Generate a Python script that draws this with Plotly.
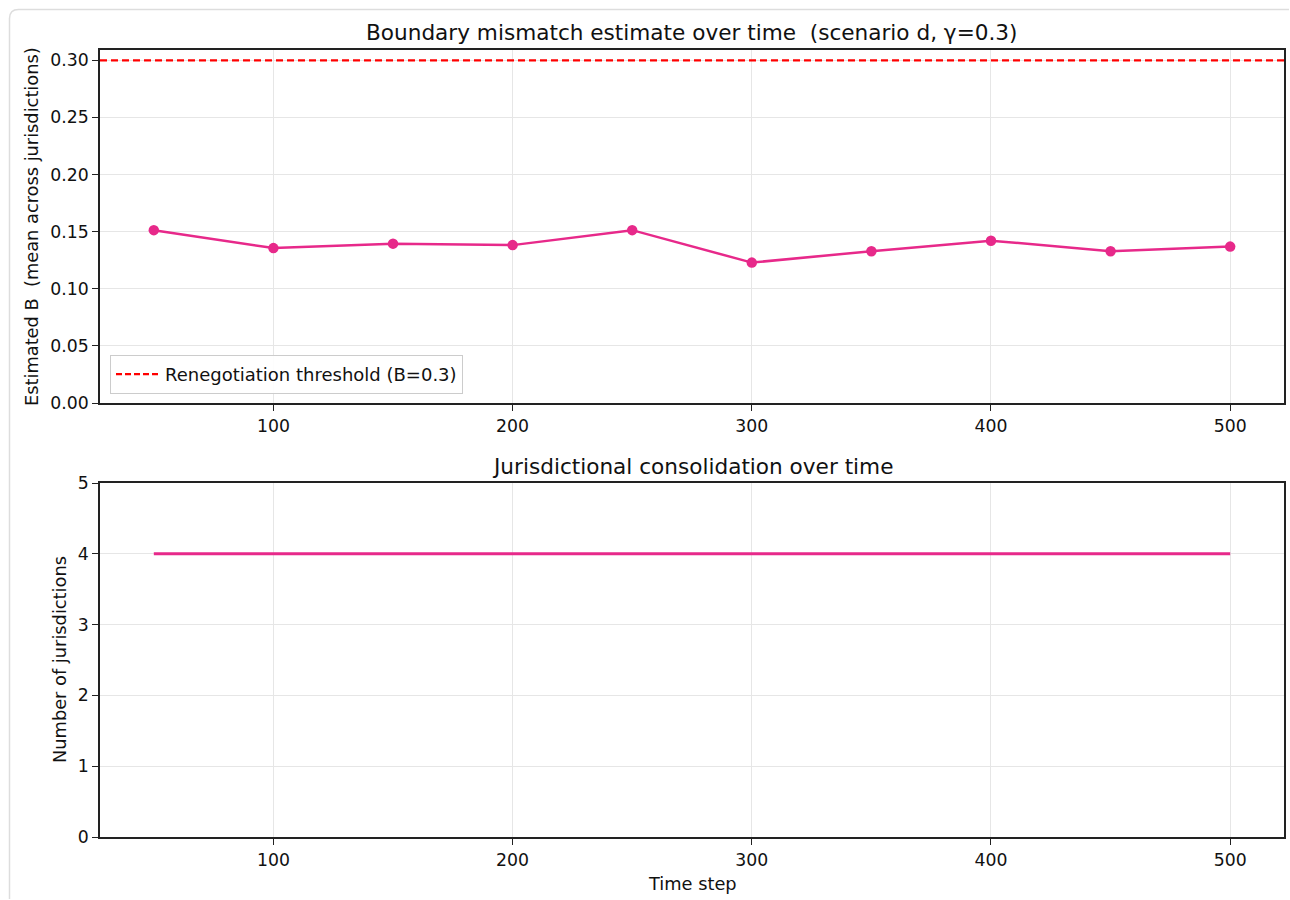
import plotly.graph_objects as go

# ---- data ----
time_steps = [50, 100, 150, 200, 250, 300, 350, 400, 450, 500]
mismatch_B = [0.1513, 0.1356, 0.1395, 0.1382, 0.1513, 0.1229, 0.1329, 0.1421, 0.1329, 0.1369]
n_jurisdictions = [4, 4, 4, 4, 4, 4, 4, 4, 4, 4]
threshold_B = 0.3
x_ticks = [100, 200, 300, 400, 500]
y1_ticks = [0.0, 0.05, 0.10, 0.15, 0.20, 0.25, 0.30]
y2_ticks = [0, 1, 2, 3, 4, 5]

title_top = "Boundary mismatch estimate over time  (scenario d, γ=0.3)"
title_bottom = "Jurisdictional consolidation over time"
ylabel_top = "Estimated B  (mean across jurisdictions)"
ylabel_bottom = "Number of jurisdictions"
xlabel = "Time step"
legend_label = "Renegotiation threshold (B=0.3)"

PINK = "#e7298a"
FONT = "DejaVu Sans, Liberation Sans, sans-serif"
W, H = 1290, 900
TICK_SIZE = 17.3
LABEL_SIZE = 17.8
LEGEND_SIZE = 18
TITLE_SIZE = 21.6

xmin, xmax = min(time_steps), max(time_steps)
pad = 0.05 * (xmax - xmin)
xrange_ = [xmin - pad, xmax + pad]
y1_top = threshold_B * 1.03

def px_x(p):
    return p / W

def px_y(p):
    return 1 - p / H

fig = go.Figure()

fig.add_trace(go.Scatter(
    x=time_steps, y=mismatch_B, mode="lines+markers",
    line=dict(color=PINK, width=2.5),
    marker=dict(color=PINK, size=10.5),
    showlegend=False, xaxis="x", yaxis="y",
))
# legend proxy for the threshold line
fig.add_trace(go.Scatter(
    x=[None], y=[None], mode="lines", name=legend_label,
    line=dict(color="red", width=2.2, dash="6px,3px"),
    showlegend=True, xaxis="x", yaxis="y",
))
fig.add_shape(type="line", xref="x domain", yref="y", x0=0, x1=1,
              y0=threshold_B, y1=threshold_B,
              line=dict(color="red", width=2.2, dash="7px,4px"))

fig.add_trace(go.Scatter(
    x=time_steps, y=n_jurisdictions, mode="lines",
    line=dict(color=PINK, width=3),
    showlegend=False, xaxis="x2", yaxis="y2",
))

axis_common = dict(
    showline=True, linecolor="#222", linewidth=1.5, mirror=True,
    ticks="outside", ticklen=6, tickwidth=1.3, tickcolor="#222",
    showgrid=True, gridcolor="#e6e6e6", gridwidth=1,
    zeroline=False, automargin=False,
    tickfont=dict(family=FONT, size=TICK_SIZE, color="#111"),
)

fig.update_layout(
    template="none",
    width=W, height=H, autosize=False,
    margin=dict(l=0, r=0, t=0, b=0, pad=0, autoexpand=False),
    paper_bgcolor="white", plot_bgcolor="white",
    font=dict(family=FONT, color="#111"),
    xaxis=dict(domain=[px_x(100), px_x(1284)], anchor="y", range=xrange_,
               tickvals=x_ticks, **axis_common),
    yaxis=dict(domain=[px_y(403), px_y(50)], anchor="x", range=[0, y1_top],
               tickvals=y1_ticks, tickformat=".2f", **axis_common),
    xaxis2=dict(domain=[px_x(100), px_x(1284)], anchor="y2", range=xrange_,
                tickvals=x_ticks, **axis_common),
    yaxis2=dict(domain=[px_y(837), px_y(483)], anchor="x2", range=[0, 5],
                tickvals=y2_ticks, **axis_common),
    legend=dict(x=px_x(110), y=px_y(394), xanchor="left", yanchor="bottom",
                bgcolor="rgba(255,255,255,0.9)", bordercolor="#cccccc", borderwidth=1,
                font=dict(family=FONT, size=LEGEND_SIZE, color="#111"),
                itemwidth=44),
    showlegend=True,
)

annots = [
    dict(text=title_top, x=(px_x(100) + px_x(1284)) / 2, y=px_y(32), size=TITLE_SIZE, angle=0),
    dict(text=title_bottom, x=(px_x(100) + px_x(1284)) / 2, y=px_y(466), size=TITLE_SIZE, angle=0),
    dict(text=ylabel_top, x=px_x(31), y=px_y(227), size=LABEL_SIZE, angle=-90),
    dict(text=ylabel_bottom, x=px_x(59), y=px_y(660), size=LABEL_SIZE, angle=-90),
    dict(text=xlabel, x=(px_x(100) + px_x(1284)) / 2, y=px_y(883), size=LABEL_SIZE, angle=0),
]
for a in annots:
    fig.add_annotation(text=a["text"], x=a["x"], y=a["y"], xref="paper", yref="paper",
                       xanchor="center", yanchor="middle", showarrow=False,
                       textangle=a["angle"],
                       font=dict(family=FONT, size=a["size"], color="#111"))

# card frame (top and left edges with rounded corner)
x0, y0 = 9.5, 9.5
r = 9
path = (f"M {px_x(x0)},{px_y(H - 1)} L {px_x(x0)},{px_y(y0 + r)} "
        f"Q {px_x(x0)},{px_y(y0)} {px_x(x0 + r)},{px_y(y0)} L {px_x(W - 1)},{px_y(y0)}")
fig.add_shape(type="path", xref="paper", yref="paper", path=path,
              line=dict(color="#dddddd", width=1.5), layer="below")

fig.write_html("out.html")
